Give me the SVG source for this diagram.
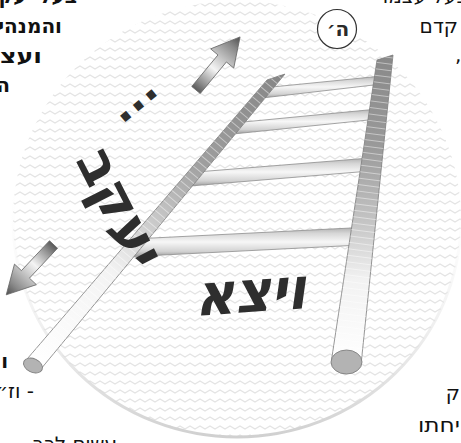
<svg xmlns="http://www.w3.org/2000/svg" width="461" height="443" viewBox="0 0 461 443">
<defs>
<style>
.pg{font-family:"DejaVu Sans","Liberation Sans",sans-serif;font-size:20px;fill:#111}
.b{font-weight:bold}
.hw{font-family:"DejaVu Sans","Liberation Sans",sans-serif;font-weight:bold;fill:#2e2e2e}
.rung{fill:url(#rungG);stroke:#8e8e8e;stroke-width:0.8}
.cap{fill:#b3b3b3;stroke:#7f7f7f;stroke-width:0.9}
.rail{stroke:#7c7c7c;stroke-width:0.8}
.arrow{stroke:#6a6a6a;stroke-width:0.8;fill:url(#arrG)}
.stripe{fill:none;stroke:#ffffff;stroke-opacity:0.45;stroke-dasharray:1 5.5}
</style>
<pattern id="wave" patternUnits="userSpaceOnUse" width="10" height="9">
<path d="M-5,6 L0,3 L5,6 L10,3 L15,6" fill="none" stroke="#e4e4e4" stroke-width="1.4" stroke-linejoin="round"/>
</pattern>
<linearGradient id="rimG" x1="0" y1="0" x2="0" y2="1">
<stop offset="0.4" stop-color="#ffffff" stop-opacity="0"/>
<stop offset="1" stop-color="#d0d0d0"/>
</linearGradient>
<linearGradient id="rungG" x1="0" y1="0" x2="0" y2="1">
<stop offset="0" stop-color="#b0b0b0"/>
<stop offset="0.2" stop-color="#d6d6d6"/>
<stop offset="0.5" stop-color="#f7f7f7"/>
<stop offset="0.82" stop-color="#d2d2d2"/>
<stop offset="1" stop-color="#9c9c9c"/>
</linearGradient>
<linearGradient id="lrG" gradientUnits="userSpaceOnUse" x1="276" y1="76" x2="34" y2="364">
<stop offset="0" stop-color="#878787"/>
<stop offset="0.3" stop-color="#9e9e9e"/>
<stop offset="0.5" stop-color="#c8c8c8"/>
<stop offset="0.68" stop-color="#f3f3f3"/>
<stop offset="1" stop-color="#ffffff"/>
</linearGradient>
<linearGradient id="rrG" gradientUnits="userSpaceOnUse" x1="0" y1="56" x2="0" y2="362">
<stop offset="0" stop-color="#898989"/>
<stop offset="0.3" stop-color="#9a9a9a"/>
<stop offset="0.55" stop-color="#c6c6c6"/>
<stop offset="0.73" stop-color="#f2f2f2"/>
<stop offset="1" stop-color="#ffffff"/>
</linearGradient>
<linearGradient id="arrG" gradientUnits="userSpaceOnUse" x1="0" y1="0" x2="69" y2="0">
<stop offset="0" stop-color="#5a5a5a"/>
<stop offset="0.12" stop-color="#8a8a8a"/>
<stop offset="0.4" stop-color="#f4f4f4"/>
<stop offset="0.6" stop-color="#c2c2c2"/>
<stop offset="0.82" stop-color="#8a8a8a"/>
<stop offset="1" stop-color="#4e4e4e"/>
</linearGradient>
<clipPath id="lrClip"><polygon points="267.1,79.9 284.9,74.1 40.5,369.5 27.5,358.5"/></clipPath>
<clipPath id="rrClip"><polygon points="377,60 393,55 361.5,360 331.5,360"/></clipPath>
<polygon id="arrowShape" points="0,-5.5 41,-5.5 41,-15 69,0 41,15 41,5.5 0,5.5"/>
</defs>

<rect x="0" y="0" width="461" height="443" fill="#ffffff"/>

<g id="backdrop">
<ellipse cx="237" cy="219" rx="224" ry="218" fill="url(#wave)"/>
<ellipse cx="237" cy="219" rx="224" ry="218" fill="none" stroke="url(#rimG)" stroke-width="3"/>
</g>

<g id="page-text">
<text class="pg b" x="77" y="3" text-anchor="end">בעל יעקב</text>
<text class="pg b" x="62" y="33" text-anchor="end">והמנהי</text>
<text class="pg b" x="42" y="63" text-anchor="end" textLength="42" lengthAdjust="spacingAndGlyphs">ועצ</text>
<text class="pg b" x="10" y="92" text-anchor="end">ה</text>
<text class="pg b" x="8" y="368" text-anchor="end">ו</text>
<text class="pg" x="34" y="398" direction="rtl" text-anchor="start">- וז״ל</text>
<text class="pg" x="117" y="451" text-anchor="end">עשים לכב</text>
<text class="pg" x="468" y="3" text-anchor="end">בעל עצמו</text>
<text class="pg" x="458" y="33" text-anchor="end">קדם</text>
<text class="pg" x="455" y="62">,</text>
<text class="pg" x="460" y="400" text-anchor="end">ק</text>
<text class="pg" x="460" y="432" text-anchor="end" textLength="42" lengthAdjust="spacingAndGlyphs">יחתו</text>
</g>

<g id="ladder">
<g id="rungs">
<polygon class="rung" points="262,88 382,76 382,84 262,98"/>
<polygon class="rung" points="233,123 378,109 378,119 233,134"/>
<polygon class="rung" points="190,172.5 370,158 370,171 190,186"/>
<polygon class="rung" points="133,239 361,227.5 361,245 133,256.5"/>
</g>
<g id="left-rail">
<polygon class="rail" fill="url(#lrG)" points="267.1,79.9 284.9,74.1 40.5,369.5 27.5,358.5"/>
<line class="stripe" x1="282" y1="70" x2="33" y2="368" stroke-width="26" clip-path="url(#lrClip)"/>
<ellipse class="cap" cx="33" cy="365.5" rx="10" ry="6.8" transform="rotate(25 33 365.5)"/>
</g>
<g id="right-rail">
<polygon class="rail" fill="url(#rrG)" points="377,60 393,55 361.5,360 331.5,360"/>
<line class="stripe" x1="386" y1="50" x2="346" y2="362" stroke-width="40" clip-path="url(#rrClip)"/>
<ellipse class="cap" cx="346.5" cy="362" rx="15.5" ry="12"/>
</g>
</g>

<g id="arrow-up">
<use href="#arrowShape" class="arrow" transform="translate(196,90) rotate(-50.3)"/>
</g>
<g id="arrow-down">
<use href="#arrowShape" class="arrow" transform="translate(53.5,244.5) rotate(133.2)"/>
</g>

<g id="hashem">
<circle cx="337" cy="29" r="19.5" fill="#ffffff" stroke="#333333" stroke-width="1.2"/>
<text x="338" y="36" text-anchor="middle" font-family="DejaVu Sans, Liberation Sans, sans-serif" font-weight="bold" font-size="20" fill="#2a2a2a">ה׳</text>
</g>

<g id="handwriting">
<text class="hw" font-size="55" text-anchor="middle" x="0" y="19" transform="translate(121,208) rotate(63)">יעקב</text>
<text class="hw" font-size="44" text-anchor="middle" x="0" y="5" transform="translate(138,105) rotate(-40)">...</text>
<text class="hw" font-size="58" text-anchor="middle" x="0" y="0" textLength="112" lengthAdjust="spacingAndGlyphs" transform="translate(251,312) rotate(-4) skewX(-12)">ויצא</text>
</g>
</svg>
